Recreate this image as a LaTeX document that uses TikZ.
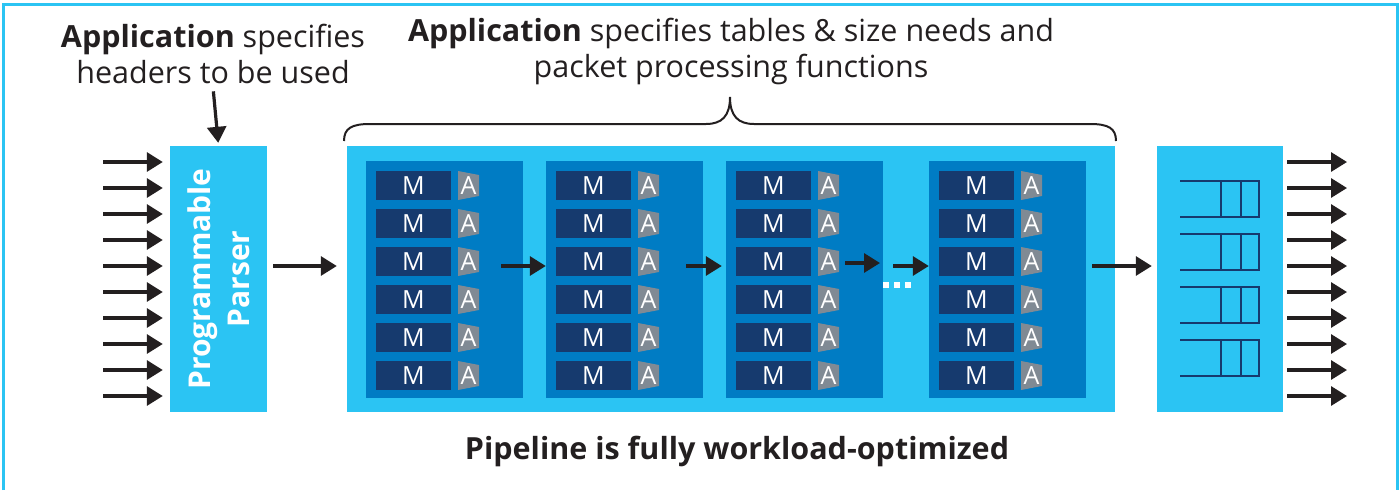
\documentclass[tikz,border=0pt]{standalone}
\usepackage{fontspec}
\setmainfont{Open Sans}
\usetikzlibrary{arrows.meta}
\definecolor{skyblue}{RGB}{43,196,243}
\definecolor{stageblue}{RGB}{0,124,196}
\definecolor{navy}{RGB}{22,58,110}
\definecolor{agray}{RGB}{128,138,148}
\definecolor{ink}{RGB}{35,31,32}

\begin{document}
\begin{tikzpicture}[x=1pt,y=-1pt,
    flow/.style={draw=ink,line width=3.2pt,-{Triangle[length=16pt,width=19pt]}},
    lightbox/.style={fill=skyblue,inner sep=0pt},
    stagebox/.style={fill=stageblue,inner sep=0pt,minimum width=157,minimum height=237},
    mbox/.style={fill=navy,text=white,inner sep=0pt,minimum width=75,minimum height=29,font=\fontsize{25}{25}\selectfont},
    alabel/.style={text=white,inner sep=0pt,font=\fontsize{25}{25}\selectfont},
    note/.style={text=ink,align=center,font=\fontsize{30.5}{36}\selectfont},
    queue/.style={draw=navy,line width=2.2pt}]
\useasboundingbox (0,0) rectangle (1399,490);
\draw[skyblue,line width=3pt] (3.5,490) -- (3.5,4.5) -- (1397.5,4.5) -- (1397.5,490);

\node[note] (hdrnote) at (213,54) {\textbf{Application} specifies\\headers to be used};
\node[note] (tblnote) at (731,51) {\textbf{Application} specifies tables \& size needs and\\packet processing functions};
\node[note,font=\bfseries\fontsize{30.5}{36}\selectfont] (optnote) at (737,451) {Pipeline is fully workload-optimized};

\node[lightbox,minimum width=97,minimum height=266] (parser) at (218.5,279) {};
\node[rotate=90,text=white,align=center,font=\bfseries\fontsize{30}{39}\selectfont] (plabel) at (parser.center) {Programmable\\Parser};
\draw[flow,shorten <=4pt,shorten >=3pt] (hdrnote.south) -- (parser.north);

\foreach \i in {0,...,9} {
    \coordinate (in\i) at (103,162+26*\i);
    \draw[flow,shorten >=7pt] (in\i) -- (in\i -| parser.west);
}

\node[lightbox,minimum width=768,minimum height=266] (pipe) at (731,279) {};
\draw[flow,shorten <=6pt,shorten >=10pt] (parser.east |- 0,266) -- (pipe.west |- 0,266);

\foreach \s/\sx in {1/366,2/546,3/726,4/929} {
    \node[stagebox] (st\s) at (\sx+78.5,279.5) {};
    \foreach \r in {1,...,6} {
        \node[mbox] (m\s\r) at (\sx+47.5,147.5+38*\r) {M};
        \fill[agray] (\sx+92,133+38*\r) -- ++(21,4) -- ++(0,21) -- ++(-21,4) -- cycle;
        \node[alabel] (a\s\r) at (\sx+102.5,147.5+38*\r) {A};
    }
}

\coordinate (s1out) at (501,266);
\coordinate (s2out) at (686,266);
\coordinate (s3out) at (845,263);
\coordinate (gapin) at (880,263);
\coordinate (s4in) at (893,266);
\coordinate (s4out) at (1092,266);
\draw[flow] (s1out) -- (s1out -| st2.west);
\draw[flow,shorten >=4pt] (s2out) -- (s2out -| st3.west);
\draw[flow] (s3out) -- (gapin);
\draw[flow] (s4in) -- (s4in -| st4.west);
\foreach \dx in {883,894,905}
    \fill[white] (\dx,282) rectangle ++(6,6);

\draw[ink,line width=2pt] (344,141) .. controls (344,128) and (352,124) .. (370,124) -- (706,124)
    .. controls (722,124) and (730,116) .. (730,97) .. controls (730,116) and (738,124) .. (754,124)
    -- (1090,124) .. controls (1108,124) and (1116,128) .. (1116,141);

\node[lightbox,minimum width=126,minimum height=266] (out) at (1220,279) {};
\draw[flow,shorten >=5pt] (s4out) -- (s4out -| out.west);
\foreach \qy in {181,234,287,340}
    \draw[queue] (1180,\qy) -- (1259,\qy) -- (1259,\qy+36) -- (1180,\qy+36)
        (1221,\qy) -- (1221,\qy+36) (1241,\qy) -- (1241,\qy+36);

\foreach \i in {0,...,9} {
    \coordinate (outend\i) at (1347,162+26*\i);
    \draw[flow,shorten <=4pt] (out.east |- outend\i) -- (outend\i);
}
\end{tikzpicture}
\end{document}
